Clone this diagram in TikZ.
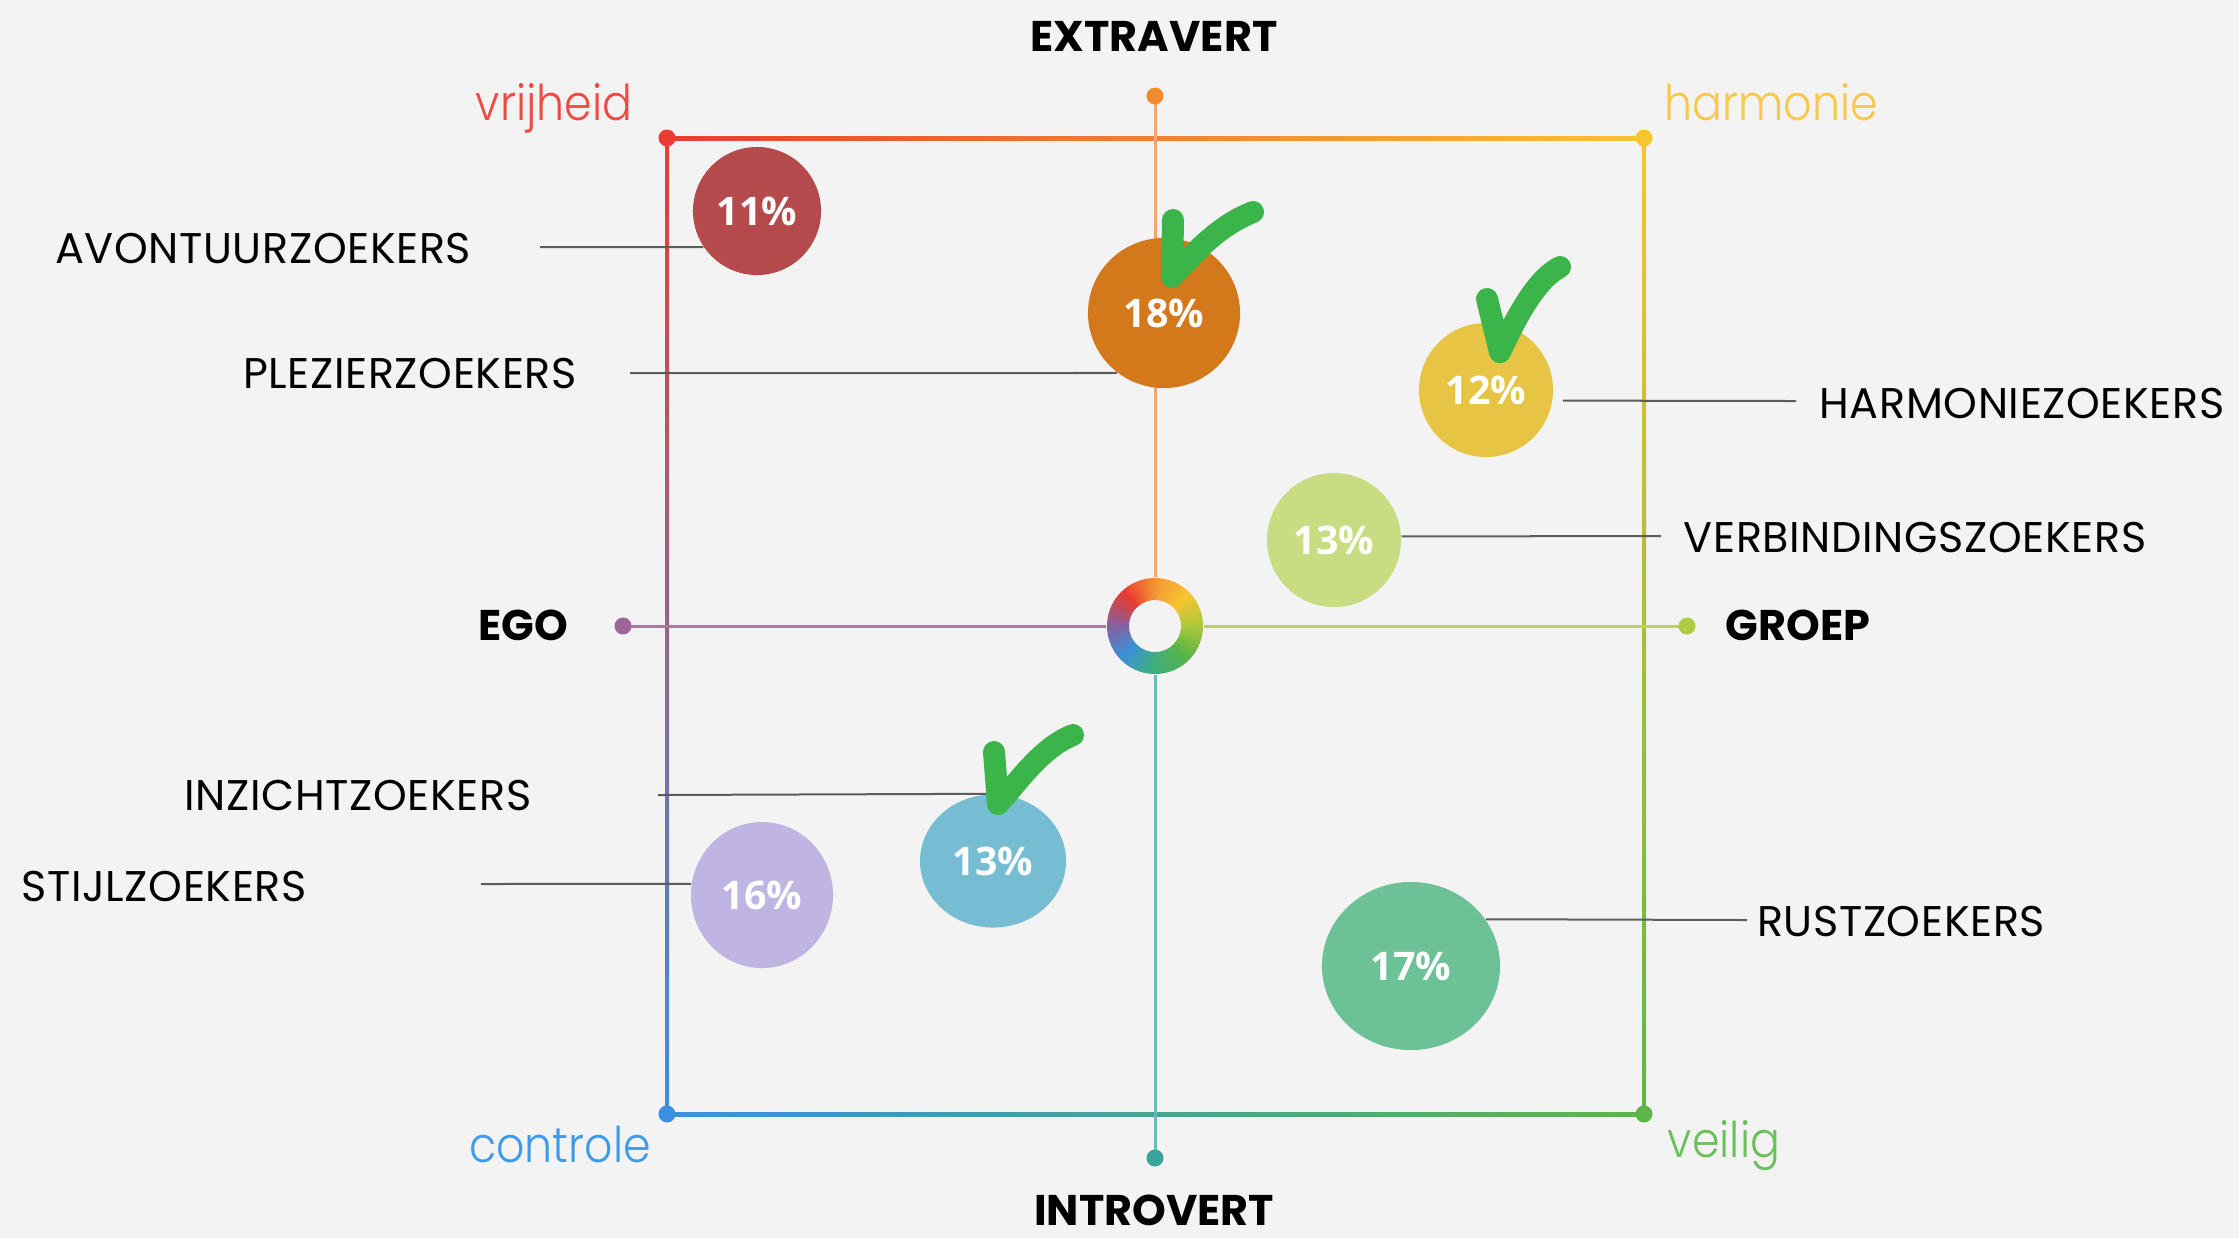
\documentclass[tikz,border=0pt]{standalone}
\usepackage{fontspec}
\setmainfont{Poppins}
\newfontfamily\lblfont{Poppins}[LetterSpace=1.5]
\IfFontExistsTF{Poppins Light}
  {\newfontfamily\cornerfont{Poppins Light}[FakeStretch=0.9]}
  {\newfontfamily\cornerfont{Poppins}[FakeStretch=0.88]}
\newfontfamily\pctfont{Open Sans}
\usetikzlibrary{shapes.geometric}

\definecolor{bgc}{HTML}{F3F3F3}
\definecolor{leadc}{HTML}{5C5C5C}
\definecolor{tickc}{HTML}{3BB54A}
% frame corners and middles
\definecolor{cvr}{HTML}{EA3C33}
\definecolor{cha}{HTML}{F6C532}
\definecolor{cco}{HTML}{3A8FE0}
\definecolor{cve}{HTML}{5DB648}
\definecolor{ctop}{HTML}{F5A060}
\definecolor{cleft}{HTML}{9A6A9E}
\definecolor{cright}{HTML}{B7CD48}
\definecolor{cbot}{HTML}{48ABA2}
% axes
\definecolor{cex}{HTML}{F28A2E}
\definecolor{cexl}{HTML}{F5A570}
\definecolor{cin}{HTML}{3AA39A}
\definecolor{cinl}{HTML}{66BDB7}
\definecolor{ceg}{HTML}{9C6796}
\definecolor{cegl}{HTML}{A67AA2}
\definecolor{cgr}{HTML}{B2CB45}
\definecolor{cgrl}{HTML}{BDD25C}
% ring
\definecolor{rO}{HTML}{F29A32}
\definecolor{rY}{HTML}{F6C42E}
\definecolor{rYG}{HTML}{A8C83B}
\definecolor{rG}{HTML}{55B349}
\definecolor{rT}{HTML}{3FAD80}
\definecolor{rB}{HTML}{3A90D8}
\definecolor{rP}{HTML}{8A5E9A}
\definecolor{rR}{HTML}{E73B31}
% corner words
\definecolor{tvr}{HTML}{EE4B44}
\definecolor{tha}{HTML}{F7C84A}
\definecolor{tco}{HTML}{3D9BE9}
\definecolor{tve}{HTML}{6CC05B}
% bubbles
\definecolor{p11}{HTML}{B44A4C}
\definecolor{p18}{HTML}{D4781C}
\definecolor{p12}{HTML}{E8C444}
\definecolor{p13g}{HTML}{C8DC82}
\definecolor{p13b}{HTML}{76BDD2}
\definecolor{p16}{HTML}{C0B4E2}
\definecolor{p17}{HTML}{6CC196}

\begin{document}
\begin{tikzpicture}[x=0.01cm, y=-0.01cm,
  lbl/.style = {inner sep=0, font=\lblfont\fontsize{12.2}{14}\selectfont},
  head/.style = {inner sep=0, font=\fontsize{12.2}{14}\selectfont\bfseries},
  cornertext/.style = {inner sep=0, anchor=base,
    font=\cornerfont\fontsize{14}{16}\selectfont},
  dot/.style = {circle, inner sep=0, minimum size=0.17cm},
  bubble/.style = {ellipse, inner sep=0, text=white,
    font=\pctfont\bfseries\fontsize{11.2}{13}\selectfont},
  lead/.style = {draw=leadc, line width=0.02cm},
  axisline/.style = {line width=0.03cm},
  checkmark/.style = {draw=tickc, line width=0.22cm, line cap=round, line join=round}]
  \path[use as bounding box, fill=bgc] (0,0) rectangle (2239,1238);

  % frame and axes
  \coordinate (vr) at (667,138);
  \coordinate (ha) at (1644,138);
  \coordinate (co) at (667,1114);
  \coordinate (ve) at (1644,1114);
  \coordinate (ex) at (1155,96);
  \coordinate (in) at (1155,1158);
  \coordinate (eg) at (623,626);
  \coordinate (gr) at (1687,626);
  \node[circle, minimum size=0.96cm, inner sep=0] (ring) at (1155,626) {};
  \shade[left color=cvr, middle color=ctop, right color=cha]
    ([yshift=-0.02cm]vr) rectangle ([yshift=0.02cm]ha);
  \shade[top color=cvr, middle color=cleft, bottom color=cco]
    ([xshift=-0.02cm]vr) rectangle ([xshift=0.02cm]co);
  \shade[top color=cha, middle color=cright, bottom color=cve]
    ([xshift=-0.02cm]ha) rectangle ([xshift=0.02cm]ve);
  \shade[left color=cco, middle color=cbot, right color=cve]
    ([yshift=-0.02cm]co) rectangle ([yshift=0.02cm]ve);
  \draw[axisline, cexl] (ex) -- (ring);
  \draw[axisline, cinl] (ring) -- (in);
  \draw[axisline, cegl] (eg) -- (ring);
  \draw[axisline, cgrl] (ring) -- (gr);
  \foreach \c/\n in {cvr/vr, cha/ha, cco/co, cve/ve, cex/ex, cin/in, ceg/eg, cgr/gr}
    \node[dot, fill=\c] (\n-dot) at (\n) {};

  % colour ring
  \foreach \ca/\cb [count=\i from 0] in {rO/rY, rY/rYG, rYG/rG, rG/rT, rT/rB, rB/rP, rP/rR, rR/rO}
    \foreach \k in {0,...,8} {
      \pgfmathsetmacro\angA{\i*45+\k*5-90}
      \pgfmathsetmacro\angB{\angA+5.6}
      \pgfmathtruncatemacro\p{100-\k*100/9}
      \fill[\ca!\p!\cb] (ring.center) ++(\angA:48) arc[start angle=\angA, end angle=\angB, radius=48]
        -- ([shift={(\angB:26)}]ring.center) arc[start angle=\angB, end angle=\angA, radius=26] -- cycle;
    }

  % groups
  \node[bubble, fill=p11, minimum width=1.28cm, minimum height=1.28cm] (b11) at (757,211) {11\%};
  \node[bubble, fill=p18, minimum width=1.52cm, minimum height=1.50cm] (b18) at (1164,313) {18\%};
  \node[bubble, fill=p12, minimum width=1.34cm, minimum height=1.34cm] (b12) at (1486,390) {12\%};
  \node[bubble, fill=p13g, minimum width=1.34cm, minimum height=1.34cm] (b13g) at (1334,540) {13\%};
  \node[bubble, fill=p13b, minimum width=1.46cm, minimum height=1.33cm] (b13b) at (993,861) {13\%};
  \node[bubble, fill=p16, minimum width=1.42cm, minimum height=1.46cm] (b16) at (762,895) {16\%};
  \node[bubble, fill=p17, minimum width=1.78cm, minimum height=1.68cm] (b17) at (1411,966) {17\%};

  \node[lbl] (avo) at (263,248) {AVONTUURZOEKERS};
  \node[lbl] (plez) at (410,373) {PLEZIERZOEKERS};
  \node[lbl] (harm) at (2022,403) {HARMONIEZOEKERS};
  \node[lbl] (verb) at (1915,537) {VERBINDINGSZOEKERS};
  \node[lbl] (inz) at (358,795) {INZICHTZOEKERS};
  \node[lbl] (stijl) at (164,886) {STIJLZOEKERS};
  \node[lbl] (rust) at (1901,921) {RUSTZOEKERS};

  \node[head] (extra) at (1154,36) {EXTRAVERT};
  \node[head] (intro) at (1154,1210) {INTROVERT};
  \node[head] (ego) at (523,625) {EGO};
  \node[head] (groep) at (1798,625) {GROEP};

  \node[cornertext, text=tvr] (vrij) at (554,120) {vrijheid};
  \node[cornertext, text=tha] (harmonie) at (1771,120) {harmonie};
  \node[cornertext, text=tco] (contr) at (560,1162) {controle};
  \node[cornertext, text=tve] (veilig) at (1724,1157) {veilig};

  % leader lines
  \coordinate (avo-l) at (540,247);
  \coordinate (plez-l) at (630,373);
  \coordinate (inz-l) at (658,795);
  \coordinate (stijl-l) at (481,884);
  \coordinate (harm-r) at (1796,401);
  \coordinate (verb-r) at (1661,536);
  \coordinate (rust-r) at (1747,920);
  \draw[lead] (avo-l) -- (b11.214);
  \draw[lead] (plez-l) -- (b18.232);
  \draw[lead] (inz-l) -- (b13b.north);
  \draw[lead] (stijl-l) -- (b16.171);
  \draw[lead] ([xshift=0.1cm]b12.351) -- (harm-r);
  \draw[lead] (b13g.3) -- (verb-r);
  \draw[lead] (b17.32) -- (rust-r);

  % ticks
  \draw[checkmark] (1173,220) -- (1172,277) .. controls (1195,252) and (1218,226) .. (1253,212);
  \draw[checkmark] (1487,299) -- (1500,352) .. controls (1515,320) and (1535,280) .. (1560,267);
  \draw[checkmark] (994,752) -- (998,804) .. controls (1016,785) and (1040,748) .. (1073,735);
\end{tikzpicture}
\end{document}
